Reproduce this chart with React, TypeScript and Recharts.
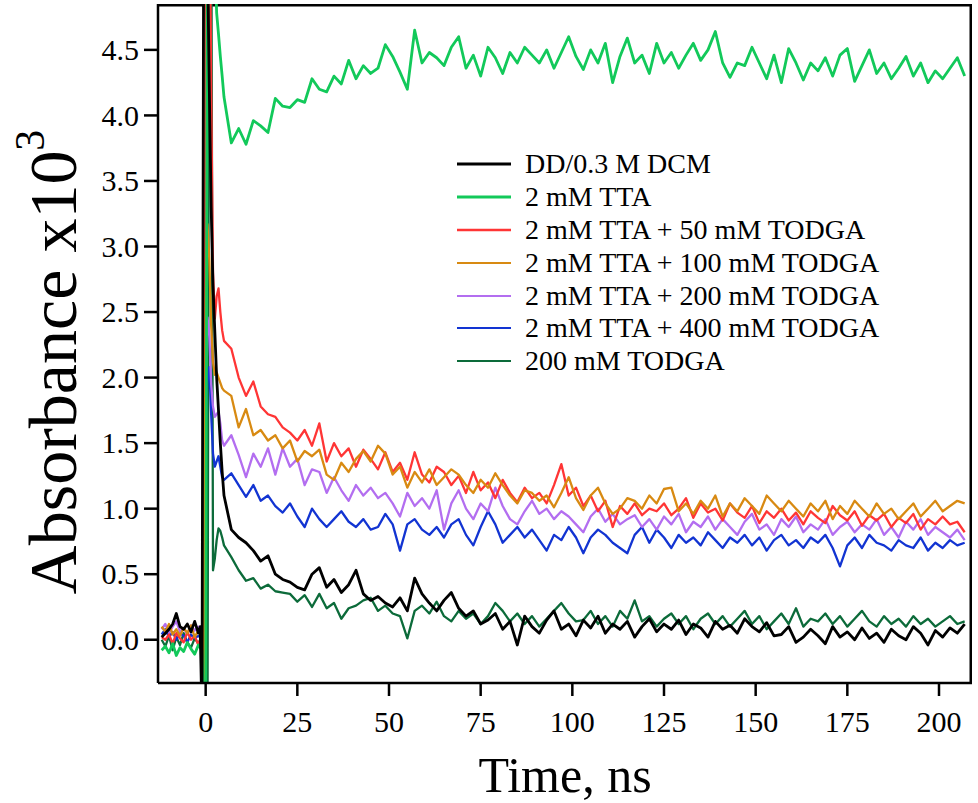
import React from 'react';
import { LineChart, Line, XAxis, YAxis, Legend, Label, usePlotArea } from 'recharts';

// time axis (ns)
const TIME_EARLY = [-12, -11, -10, -9, -8, -7, -6, -5, -4, -3, -2, -1.5, -1, -0.5, 0, 0.5, 1, 1.5, 2, 2.5, 3, 3.5, 4, 4.5];
const TIME_LATE = [
  5, 7, 9, 11, 13, 15, 17, 19, 21, 23,
  25, 27, 29, 31, 33, 35, 37, 39, 41, 43,
  45, 47, 49, 51, 53, 55, 57, 59, 61, 63,
  65, 67, 69, 71, 73, 75, 77, 79, 81, 83,
  85, 87, 89, 91, 93, 95, 97, 99, 101, 103,
  105, 107, 109, 111, 113, 115, 117, 119, 121, 123,
  125, 127, 129, 131, 133, 135, 137, 139, 141, 143,
  145, 147, 149, 151, 153, 155, 157, 159, 161, 163,
  165, 167, 169, 171, 173, 175, 177, 179, 181, 183,
  185, 187, 189, 191, 193, 195, 197, 199, 201, 203,
  205, 207,
];

// absorbance x10^3, in hundredths
const DD_EARLY = [2, 5, 8, 12, 20, 10, 8, 12, 6, 14, 5, 10, -60, 600, 600, 520, 420, 330, 270, 235, 200, 175, 150, 128];
const DD_LATE = [
  110, 84, 78, 74, 68, 60, 64, 50, 46, 44,
  40, 38, 50, 55, 40, 46, 36, 42, 53, 35,
  30, 33, 28, 25, 32, 22, 47, 35, 28, 22,
  30, 36, 24, 18, 22, 12, 15, 20, 8, 14,
  -4, 18, 10, 5, 15, 22, 8, 12, 3, 15,
  9, 18, 5, 12, 8, 14, 2, 10, 16, 6,
  12, 8, 15, 4, 12, 9, 2, 14, 8, 11,
  5, 16, 10, 6, 13, 3, 4, 10, -2, 2,
  8, 3, -3, 10, 2, 6, 0, 9, 1, 5,
  -2, 8, 3, 0, 10, 5, -4, 7, 2, 9,
  5, 12,
];

const TTA_EARLY = [-8, -5, -10, -3, -12, -6, -9, -2, -7, -11, -4, -6, -8, -60, -60, 600, 600, 600, 600, 520, 478, 462, 445, 430];
const TTA_LATE = [
  414, 379, 390, 378, 396, 392, 387, 413, 407, 406,
  412, 410, 428, 420, 418, 430, 424, 442, 428, 438,
  432, 436, 454, 445, 433, 420, 465, 440, 448, 444,
  438, 452, 460, 436, 446, 430, 452, 444, 432, 448,
  440, 452, 446, 440, 450, 436, 448, 460, 445, 435,
  450, 440, 455, 425, 445, 459, 440, 446, 432, 455,
  440, 448, 436, 446, 455, 442, 450, 464, 440, 429,
  440, 438, 452, 440, 428, 446, 425, 451, 440, 427,
  440, 434, 444, 430, 446, 451, 426, 438, 450, 432,
  440, 428, 436, 445, 430, 440, 425, 434, 428, 436,
  444, 430,
];

const T50_EARLY = [2, 0, 4, -3, 5, 1, -2, 6, 0, 3, -4, 0, -3, -60, 600, 600, 600, 420, 280, 245, 262, 268, 250, 236];
const T50_LATE = [
  228, 222, 200, 186, 197, 178, 172, 170, 162, 158,
  152, 160, 148, 165, 136, 150, 140, 146, 132, 145,
  138, 130, 143, 128, 135, 122, 143, 126, 120, 132,
  128, 118, 125, 112, 128, 114, 120, 108, 122, 112,
  105, 116, 108, 112, 104, 118, 134, 110, 116, 102,
  110, 98, 106, 86, 102, 96, 104, 95, 100, 98,
  104, 95, 100, 108, 93, 104, 97, 100, 91, 104,
  97, 93, 102, 89, 98, 93, 100, 91, 97, 88,
  98, 93, 89, 102, 95, 91, 98, 87, 95, 91,
  96, 86, 93, 89, 96, 84, 92, 88, 94, 88,
  90, 82,
];

const T100_EARLY = [10, 6, 12, 4, 8, 3, 9, 5, 11, 2, 7, 5, 2, -60, 260, 317, 290, 240, 212, 202, 204, 200, 196, 192];
const T100_LATE = [
  190, 186, 162, 176, 156, 160, 152, 156, 146, 152,
  136, 144, 140, 145, 126, 122, 135, 128, 138, 144,
  136, 148, 142, 126, 132, 116, 128, 120, 130, 118,
  124, 130, 126, 118, 112, 122, 116, 127, 118, 110,
  104, 114, 112, 106, 110, 101, 112, 124, 108, 99,
  110, 116, 104, 96, 100, 108, 106, 100, 110, 104,
  115, 116, 98, 104, 96, 106, 100, 110, 94, 104,
  98, 108, 102, 96, 110, 104, 98, 106, 100, 94,
  104, 98, 106, 92, 102, 96, 106, 100, 94, 104,
  96, 100, 92, 98, 104, 94, 100, 106, 98, 102,
  106, 104,
];

const T200_EARLY = [8, 12, 5, 10, 14, 6, 9, 4, 11, 7, 10, 6, 4, -60, 200, 246, 232, 195, 178, 170, 172, 174, 165, 152];
const T200_LATE = [
  148, 156, 141, 124, 142, 132, 146, 126, 146, 132,
  138, 118, 130, 128, 112, 124, 114, 106, 118, 110,
  116, 108, 112, 104, 94, 112, 102, 108, 100, 114,
  84, 104, 114, 100, 92, 104, 98, 116, 102, 92,
  88, 98, 106, 96, 100, 92, 98, 94, 88, 82,
  94, 100, 90, 96, 88, 92, 95, 86, 92, 84,
  94, 88, 96, 82, 90, 86, 94, 84, 92, 86,
  80, 90, 96, 84, 88, 80, 92, 86, 94, 82,
  88, 84, 92, 80, 86, 90, 82, 88, 84, 92,
  80, 86, 78, 90, 84, 92, 80, 86, 82, 78,
  84, 76,
];

const T400_EARLY = [4, 8, 2, 6, 0, 5, 3, -2, 4, 1, 3, 2, 0, -60, 160, 200, 208, 172, 142, 132, 136, 140, 132, 124];
const T400_LATE = [
  122, 127, 118, 109, 118, 106, 110, 102, 97, 104,
  94, 86, 100, 92, 86, 92, 98, 90, 86, 92,
  84, 86, 96, 88, 68, 88, 92, 84, 80, 86,
  78, 88, 92, 80, 72, 86, 98, 88, 74, 80,
  86, 78, 84, 76, 68, 80, 76, 86, 78, 66,
  78, 84, 80, 74, 70, 66, 80, 86, 74, 84,
  78, 70, 80, 74, 78, 72, 82, 76, 70, 78,
  74, 80, 72, 78, 68, 76, 80, 72, 76, 70,
  78, 74, 80, 70, 56, 72, 78, 70, 80, 74,
  72, 68, 76, 72, 70, 78, 68, 74, 70, 76,
  72, 74,
];

const TODGA_EARLY = [0, -5, 3, -8, 2, -4, 5, -2, -6, 1, -3, 0, -4, -60, -60, -60, 600, 600, 53, 62, 76, 85, 83, 78];
const TODGA_LATE = [
  72, 63, 53, 45, 47, 39, 42, 37, 36, 35,
  29, 34, 25, 35, 24, 28, 16, 24, 26, 30,
  32, 22, 26, 20, 18, 1, 22, 26, 20, 29,
  18, 14, 22, 16, 20, 12, 18, 28, 22, 14,
  20, 12, 18, 10, 16, 22, 28, 20, 14, 15,
  22, 12, 18, 10, 22, 16, 30, 14, 18, 10,
  16, 20, 12, 18, 8, 16, 20, 12, 18, 10,
  16, 22, 12, 18, 8, 14, 20, 12, 24, 10,
  16, 14, 20, 12, 18, 10, 16, 22, 14, 10,
  18, 12, 16, 10, 18, 12, 16, 10, 14, 18,
  12, 14,
];

const SERIES_NAMES = [
  'DD/0.3 M DCM',
  '2 mM TTA',
  '2 mM TTA + 50 mM TODGA',
  '2 mM TTA + 100 mM TODGA',
  '2 mM TTA + 200 mM TODGA',
  '2 mM TTA + 400 mM TODGA',
  '200 mM TODGA',
];

const X_TICKS = [0, 25, 50, 75, 100, 125, 150, 175, 200];
const Y_TICKS = [0, 0.5, 1, 1.5, 2, 2.5, 3, 3.5, 4, 4.5];
const X_DOMAIN = [-13, 209];
const Y_DOMAIN = [-0.33, 4.85];

const SERIES_VALUES = [
  [...DD_EARLY, ...DD_LATE],
  [...TTA_EARLY, ...TTA_LATE],
  [...T50_EARLY, ...T50_LATE],
  [...T100_EARLY, ...T100_LATE],
  [...T200_EARLY, ...T200_LATE],
  [...T400_EARLY, ...T400_LATE],
  [...TODGA_EARLY, ...TODGA_LATE],
];
const TIME = [...TIME_EARLY, ...TIME_LATE];

const data = TIME.map((t, i) => {
  const row: Record<string, number> = { t };
  SERIES_VALUES.forEach((vals, k) => {
    row['s' + k] = vals[i] / 100;
  });
  return row;
});

const COLORS = ['#000000', '#12c95a', '#ff3535', '#d88a12', '#b36ef0', '#1234d2', '#0c6b3a'];
const WIDTHS = [2.8, 2.8, 2.3, 2.3, 2.3, 2.3, 2.3];
const LEGEND_WIDTHS = [3, 3, 2.5, 2.2, 2, 2, 2.2];
// drawing order (bottom to top)
const DRAW_ORDER = [6, 5, 4, 2, 3, 1, 0];

const FONT = 'Liberation Serif';

const LegendBox = () => (
  <div style={{ fontFamily: FONT, fontSize: 28, color: '#000' }}>
    {SERIES_NAMES.map((name, i) => (
      <div key={name} style={{ display: 'flex', alignItems: 'center', height: 32.8, whiteSpace: 'nowrap' }}>
        <svg width={70} height={10} style={{ flex: 'none' }}>
          <line x1={2} y1={5} x2={56} y2={5} stroke={COLORS[i]} strokeWidth={LEGEND_WIDTHS[i]} />
        </svg>
        <span>{name}</span>
      </div>
    ))}
  </div>
);

const YTitle = () => (
  <text
    x={0}
    y={0}
    transform="translate(76, 362) rotate(-90)"
    textAnchor="middle"
    fontFamily={FONT}
    fontSize={68}
    fill="#000"
  >
    Absorbance x10
    <tspan fontSize={42} dy={-32}>3</tspan>
  </text>
);

const XTitle = () => (
  <text x={565} y={792} textAnchor="middle" fontFamily={FONT} fontSize={50} fill="#000">
    Time, ns
  </text>
);

const XTick = (props: any) => {
  const { x, y, payload } = props;
  return (
    <text x={x} y={y} dy="0.71em" textAnchor="middle" style={{ fontFamily: FONT, fontSize: 30 }} fill="#000">
      {payload.value}
    </text>
  );
};

const YTick = (props: any) => {
  const { x, y, payload } = props;
  return (
    <text x={x} y={y} dy="0.34em" textAnchor="end" style={{ fontFamily: FONT, fontSize: 30 }} fill="#000">
      {Number(payload.value).toFixed(1)}
    </text>
  );
};

const Frame = () => {
  const area = usePlotArea();
  if (!area) return null;
  const top = area.y + 1.25;
  const right = area.x + area.width - 1.25;
  return (
    <g className="plot-frame">
      <line x1={area.x} y1={top} x2={right + 1.25} y2={top} stroke="#000" strokeWidth={2.5} />
      <line x1={right} y1={area.y} x2={right} y2={area.y + area.height} stroke="#000" strokeWidth={2.5} />
    </g>
  );
};

export default function App() {
  const axisStyle = { stroke: '#000', strokeWidth: 2.5 };
  return (
    <div style={{ position: 'absolute', left: 0, top: 0, width: 978, height: 803, background: '#fff', overflow: 'hidden' }}>
      <style>{'html, body { margin: 0; padding: 0; overflow: hidden; background: #fff; }'}</style>
      <LineChart
        width={978}
        height={803}
        data={data}
        margin={{ top: 4, right: 6, left: 0, bottom: 0 }}
        style={{ fontFamily: FONT }}
      >
        <XAxis
          dataKey="t"
          type="number"
          domain={X_DOMAIN}
          ticks={X_TICKS}
          allowDataOverflow
          height={120}
          tickSize={13}
          tickMargin={15}
          axisLine={axisStyle}
          tickLine={axisStyle}
          tick={<XTick />}
        >
          <Label content={<XTitle />} />
        </XAxis>
        <YAxis
          type="number"
          domain={Y_DOMAIN}
          ticks={Y_TICKS}
          allowDataOverflow
          width={158}
          tickSize={14}
          tickMargin={5}
          axisLine={axisStyle}
          tickLine={axisStyle}
          tick={<YTick />}
        >
          <Label content={<YTitle />} />
        </YAxis>
        {DRAW_ORDER.map((k) => (
          <Line
            key={k}
            dataKey={'s' + k}
            name={SERIES_NAMES[k]}
            type="linear"
            stroke={COLORS[k]}
            strokeWidth={WIDTHS[k]}
            dot={false}
            activeDot={false}
            isAnimationActive={false}
            strokeLinejoin="round"
          />
        ))}
        <Legend
          layout="vertical"
          verticalAlign="middle"
          align="center"
          content={<LegendBox />}
          wrapperStyle={{ left: 455, top: 148, width: 460, transform: 'none' }}
        />
        <Frame />
      </LineChart>
    </div>
  );
}
